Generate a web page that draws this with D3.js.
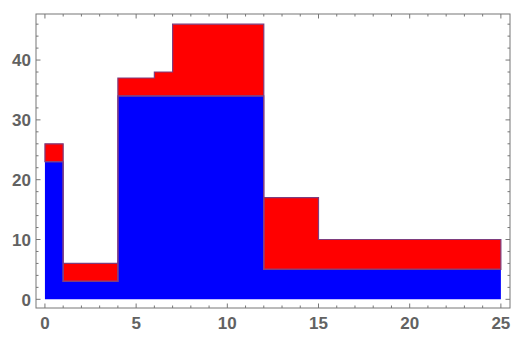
<!DOCTYPE html>
<html>
<head>
<meta charset="utf-8">
<script src="https://cdn.jsdelivr.net/npm/d3@7"></script>
<style>
  body { margin: 0; background: #fff; }
  text { font-family: "Liberation Sans", Arial, sans-serif; }
</style>
</head>
<body>
<div id="chart"></div>
<script>
// step edges and the value held on each step (last value repeated at the end)
const stepX = [0, 1, 4, 6, 7, 12, 15, 25];
const blueVals = [23, 3, 34, 34, 34, 5, 5, 5];
const redVals = [3, 3, 3, 4, 12, 12, 5, 5];

const xTicks = [0, 5, 10, 15, 20, 25];
const yTicks = [0, 10, 20, 30, 40];

const W = 523, H = 337;
const frame = {left: 36, right: 510, top: 14, bottom: 308};

const svg = d3.select("#chart")
    .append("svg")
    .attr("width", W)
    .attr("height", H);

const x = d3.scaleLinear().domain([-0.49, 25.5]).range([frame.left, frame.right]);
const y = d3.scaleLinear().domain([-1.45, 47.7]).range([frame.bottom, frame.top]);

const pts = stepX.map((v, i) => ({x: v, b: blueVals[i], t: blueVals[i] + redVals[i]}));

const redArea = d3.area().curve(d3.curveStepAfter)
    .x(d => x(d.x)).y0(d => y(d.b)).y1(d => y(d.t));

// blue area
svg.append("path")
    .datum(pts)
    .attr("d", d3.area().curve(d3.curveStepAfter)
        .x(d => x(d.x)).y0(y(0)).y1(d => y(d.b)))
    .attr("fill", "#0000ff");

// red area stacked on top
svg.append("path")
    .datum(pts)
    .attr("d", redArea)
    .attr("fill", "#ff0000");

// outlines
svg.append("path")
    .datum(pts)
    .attr("d", d3.line().curve(d3.curveStepAfter).x(d => x(d.x)).y(d => y(d.b)))
    .attr("fill", "none")
    .attr("stroke", "#8a4f96")
    .attr("stroke-width", 1.2);
svg.append("path")
    .datum(pts)
    .attr("d", redArea)
    .attr("fill", "none")
    .attr("stroke", "#7e3d7e")
    .attr("stroke-width", 1.2);

// frame
svg.append("rect")
    .attr("x", frame.left).attr("y", frame.top)
    .attr("width", frame.right - frame.left).attr("height", frame.bottom - frame.top)
    .attr("fill", "none")
    .attr("stroke", "#777")
    .attr("stroke-width", 1);

const tickCol = "#777";
// x ticks, bottom and top, pointing inward
d3.range(0, 26, 1).forEach(v => {
    const len = v % 5 === 0 ? 4.5 : 2.5;
    svg.append("line").attr("x1", x(v)).attr("x2", x(v))
        .attr("y1", frame.bottom).attr("y2", frame.bottom - len).attr("stroke", tickCol);
    svg.append("line").attr("x1", x(v)).attr("x2", x(v))
        .attr("y1", frame.top).attr("y2", frame.top + len).attr("stroke", tickCol);
});
// y ticks, left and right
d3.range(0, 47, 2).forEach(v => {
    const len = v % 10 === 0 ? 4.5 : 2.5;
    svg.append("line").attr("y1", y(v)).attr("y2", y(v))
        .attr("x1", frame.left).attr("x2", frame.left + len).attr("stroke", tickCol);
    svg.append("line").attr("y1", y(v)).attr("y2", y(v))
        .attr("x1", frame.right).attr("x2", frame.right - len).attr("stroke", tickCol);
});

// tick labels
svg.selectAll(".xl").data(xTicks).enter().append("text")
    .attr("x", d => x(d)).attr("y", frame.bottom + 20.5)
    .attr("text-anchor", "middle")
    .attr("font-size", 17).attr("font-weight", "bold")
    .attr("fill", "#626262")
    .text(d => d);

svg.selectAll(".yl").data(yTicks).enter().append("text")
    .attr("x", frame.left - 5).attr("y", d => y(d) + 6.2)
    .attr("text-anchor", "end")
    .attr("font-size", 17).attr("font-weight", "bold")
    .attr("fill", "#626262")
    .text(d => d);
</script>
</body>
</html>
